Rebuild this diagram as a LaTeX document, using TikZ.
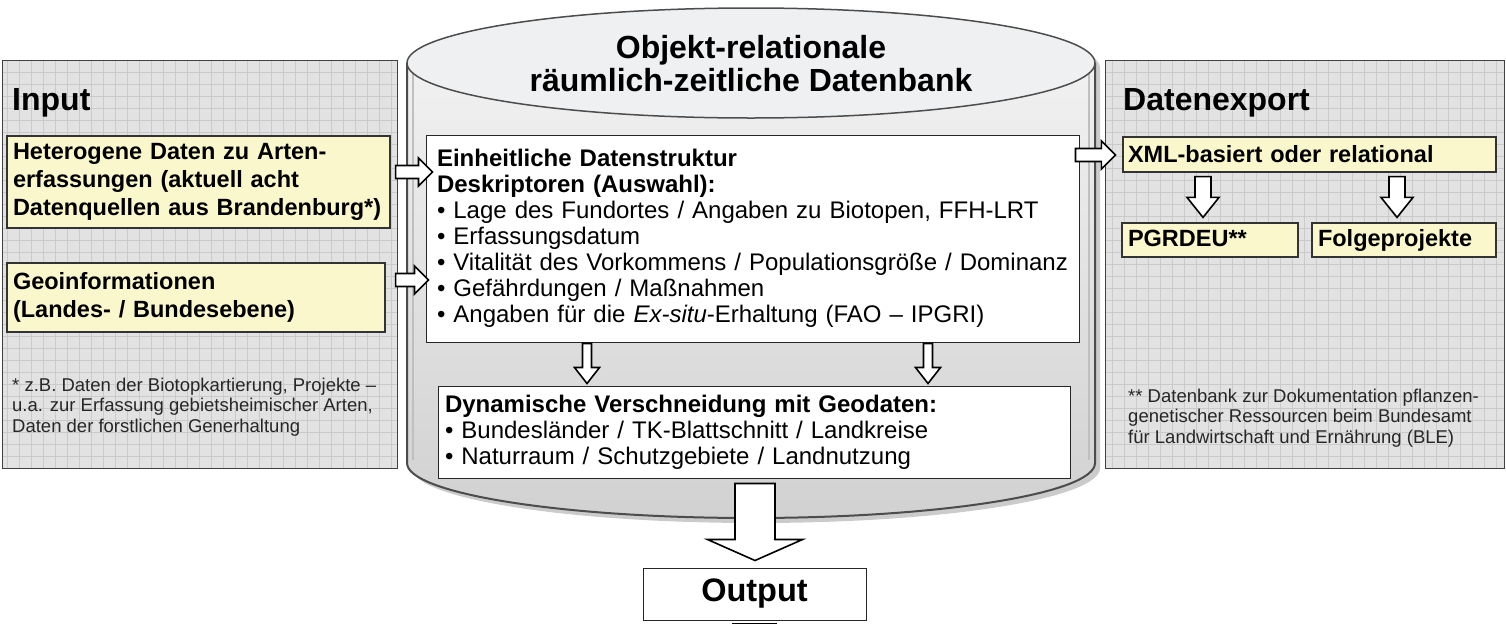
\documentclass[tikz,border=0pt]{standalone}
\usepackage{fontspec}
\setmainfont{Liberation Sans}
\usetikzlibrary{calc}

\definecolor{panelgray}{HTML}{E2E2E2}
\definecolor{gridgray}{HTML}{CACACA}
\definecolor{boxyellow}{HTML}{FBF7CC}
\definecolor{cyltop}{HTML}{EEF0F2}

\tikzset{
  panel/.style={draw=black!75, line width=1pt, fill=panelgray,
    path picture={\draw[gridgray, line width=0.5pt, step=12pt]
      (path picture bounding box.south west) grid (path picture bounding box.north east);}},
  yellowbox/.style={draw=black!80, line width=1.2pt, fill=boxyellow, align=left,
    inner xsep=6, inner ysep=0, font=\bfseries\fontsize{23.5}{28}\selectfont},
  whitebox/.style={draw=black!85, line width=1pt, fill=white, align=left, inner ysep=0,
    font=\fontsize{24}{26}\selectfont},
  heading/.style={anchor=west, inner sep=0, font=\bfseries\fontsize{32}{36}\selectfont},
  note/.style={anchor=west, align=left, inner sep=0, text=black!85,
    font=\fontsize{18.5}{20.5}\selectfont},
  arrowbody/.style={draw=black, line width=1.6pt, fill=white, line join=miter},
}

% hollow block arrow: start, end, shaft half width, head half width, head length
\newcommand{\hollowarrow}[5]{%
  \draw[arrowbody] let \p1=(#1), \p2=(#2),
      \n1={atan2(\y2-\y1,\x2-\x1)}, \n2={veclen(\x2-\x1,\y2-\y1)} in
    ([shift={(\p1)},rotate=\n1]0,#3) -- ([shift={(\p1)},rotate=\n1]\n2-#5,#3)
    -- ([shift={(\p1)},rotate=\n1]\n2-#5,#4) -- ([shift={(\p1)},rotate=\n1]\n2,0)
    -- ([shift={(\p1)},rotate=\n1]\n2-#5,-#4) -- ([shift={(\p1)},rotate=\n1]\n2-#5,-#3)
    -- ([shift={(\p1)},rotate=\n1]0,-#3) -- cycle;
}

\begin{document}
\begin{tikzpicture}[x=1pt,y=-1pt]
\useasboundingbox (0,0) rectangle (1506,627);

% side panels
\node[panel, minimum width=395, minimum height=408] (inpanel) at (199.5,264) {};
\node[panel, minimum width=399, minimum height=408] (exppanel) at (1304.5,264) {};

\node[heading] (inhead) at (12,103) {Input};
\node[heading] (exphead) at (1123,103) {Datenexport};

\node[yellowbox, minimum width=383, minimum height=92, text width=371] (het) at (198.5,182)
  {Heterogene Daten zu Arten-\\erfassungen (aktuell acht\\Datenquellen aus Brandenburg*)};
\node[yellowbox, minimum width=378, minimum height=69, text width=366] (geo) at (196,297.5)
  {Geoinformationen\\(Landes- / Bundesebene)};

\node[note] (innote) at (12,407)
  {* z.B. Daten der Biotopkartierung, Projekte –\\u.a. zur Erfassung gebietsheimischer Arten,\\Daten der forstlichen Generhaltung};

\node[yellowbox, minimum width=373, minimum height=35, text width=363, inner xsep=5] (xml) at (1309.5,154.5)
  {XML-basiert oder relational};
\node[yellowbox, minimum width=176, minimum height=34, text width=164, text height=17, text depth=5] (pgr) at (1210,240) {PGRDEU**};
\node[yellowbox, minimum width=184, minimum height=34, text width=172, text height=17, text depth=5] (fol) at (1404,240) {Folgeprojekte};

\node[note] (expnote) at (1128,418)
  {** Datenbank zur Dokumentation pflanzen-\\genetischer Ressourcen beim Bundesamt\\für Landwirtschaft und Ernährung (BLE)};

% database cylinder
\fill[black!45, opacity=0.45] (412,68) -- (412,468) arc[start angle=180, end angle=360, x radius=344pt, y radius=55pt]
  -- (1100,68) arc[start angle=0, end angle=180, x radius=344pt, y radius=55pt] -- cycle;
\shade[top color=black!4, bottom color=black!18] (407,63) -- (407,463)
  arc[start angle=180, end angle=360, x radius=344pt, y radius=55pt]
  -- (1095,63) arc[start angle=0, end angle=180, x radius=344pt, y radius=55pt] -- cycle;
\draw[black!70, line width=2pt] (407,63) -- (407,463)
  arc[start angle=180, end angle=360, x radius=344pt, y radius=55pt] -- (1095,63);
\draw[black!25, line width=1.5pt] (413,70) -- (413,460);
\draw[black!25, line width=1.5pt] (1089,70) -- (1089,460);
\draw[black!70, line width=1.5pt, fill=cyltop] (751,63) ellipse [x radius=344pt, y radius=55pt];

\node[align=center, font=\bfseries\fontsize{32}{33}\selectfont] (title) at (751,63.5)
  {Objekt-relationale\\räumlich-zeitliche Datenbank};

\node[whitebox, minimum width=653, minimum height=207, text width=631, inner xsep=11] (dat) at (752.5,238.5)
  {\textbf{Einheitliche Datenstruktur}\\
   \textbf{Deskriptoren (Auswahl):}\\
   • Lage des Fundortes / Angaben zu Biotopen, FFH-LRT\\
   • Erfassungsdatum\\
   • Vitalität des Vorkommens / Populationsgröße / Dominanz\\
   • Gefährdungen / Maßnahmen\\
   • Angaben für die \textit{Ex-situ}-Erhaltung (FAO – IPGRI)};

\node[whitebox, minimum width=632, minimum height=92, text width=618, inner xsep=7] (geod) at (754,432)
  {\textbf{Dynamische Verschneidung mit Geodaten:}\\
   • Bundesländer / TK-Blattschnitt / Landkreise\\
   • Naturraum / Schutzgebiete / Landnutzung};

\node[draw=black!85, line width=1pt, fill=white, minimum width=223, minimum height=52,
  font=\bfseries\fontsize{32.5}{36}\selectfont] (out) at (754.5,594) {Output};
\draw[black, line width=1.5pt] (732,623.5) -- (777,623.5);

% block arrows
\hollowarrow{$(het.east)+(5,-10)$}{$(dat.west)+(7,-66.5)$}{6.5}{14}{14}
\hollowarrow{$(geo.east)+(10,-17.5)$}{$(dat.west)+(3,41.5)$}{6.5}{14}{14}
\hollowarrow{$(dat.east)+(-4,-83.5)$}{$(xml.west)+(-7,0.5)$}{6.5}{14}{14}
\hollowarrow{$(dat.south)+(-165.5,1)$}{$(geod.north)+(-167,-2)$}{4.5}{12.5}{16}
\hollowarrow{$(dat.south)+(175.5,1)$}{$(geod.north)+(174,-2)$}{4.5}{12.5}{16}
\hollowarrow{$(xml.south)+(-106.5,4)$}{$(pgr.north)+(-7,-5)$}{8}{16}{20}
\hollowarrow{$(xml.south)+(87.5,4)$}{$(fol.north)+(-7,-5)$}{8}{16}{20}
\hollowarrow{$(geod.south)+(1,5)$}{$(out.north)+(0.5,-7)$}{20}{47.5}{21}
\end{tikzpicture}
\end{document}
